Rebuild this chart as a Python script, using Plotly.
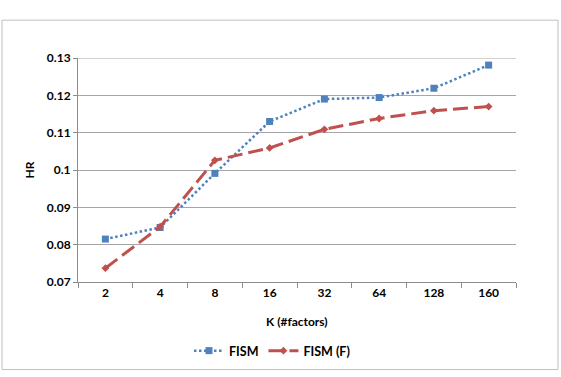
import plotly.graph_objects as go

categories = ["2", "4", "8", "16", "32", "64", "128", "160"]
fism = [0.0815, 0.0846, 0.0991, 0.1130, 0.1190, 0.1194, 0.1219, 0.1281]
fism_f = [0.0737, 0.0848, 0.1026, 0.1059, 0.1109, 0.1138, 0.1159, 0.1170]
y_ticks = [0.07, 0.08, 0.09, 0.1, 0.11, 0.12, 0.13]
y_tick_text = ["0.07", "0.08", "0.09", "0.1", "0.11", "0.12", "0.13"]

W, H = 561, 377
L, R, T, B = 78, 45, 58, 94
pw, ph = W - L - R, H - T - B

def px(x):
    return (x - L) / pw

def py(y):
    return (H - B - y) / ph

FONT = "Lato"
fig = go.Figure()
fig.add_trace(go.Scatter(
    x=categories, y=fism, name="FISM", mode="lines+markers",
    line=dict(color="#4F81BD", width=2.5, dash="2.5px,2.5px"),
    marker=dict(symbol="square", size=7, color="#4F81BD"),
))
fig.add_trace(go.Scatter(
    x=categories, y=fism_f, name="FISM (F)", mode="lines+markers",
    line=dict(color="#C0504D", width=3, dash="15px,6px"),
    marker=dict(symbol="diamond", size=6, color="#C0504D"),
))

fig.update_layout(
    width=W, height=H,
    margin=dict(l=L, r=R, t=T, b=B),
    paper_bgcolor="white", plot_bgcolor="white",
    font=dict(family=FONT, size=12, color="black"),
    showlegend=True,
    legend=dict(orientation="h", x=px(272), xanchor="center", y=py(351), yanchor="middle",
                font=dict(family=FONT, size=12.5, color="black", weight="bold"),
                itemwidth=30, bgcolor="rgba(0,0,0,0)"),
    xaxis=dict(type="category", showgrid=False, showline=True, linecolor="#8c8c8c", linewidth=1,
               ticks="outside", tickson="boundaries", ticklen=5, tickcolor="#8c8c8c",
               tickfont=dict(family=FONT, size=12, color="black", weight="bold"),
               range=[-0.5, 7.5], fixedrange=True),
    yaxis=dict(range=[0.07, 0.13], tickvals=y_ticks, ticktext=y_tick_text,
               showgrid=True, gridcolor="#a6a6a6", gridwidth=1,
               showline=True, linecolor="#8c8c8c", linewidth=1,
               ticks="outside", ticklen=4, tickcolor="#8c8c8c",
               tickfont=dict(family=FONT, size=12, color="black", weight="bold"),
               zeroline=False, fixedrange=True),
    shapes=[dict(type="rect", xref="paper", yref="paper",
                 x0=px(2), x1=px(558), y0=py(20), y1=py(371),
                 line=dict(color="#bfbfbf", width=1), layer="below")],
    annotations=[
        dict(text="<b>K (#factors)</b>", xref="paper", yref="paper", x=px(297), y=py(323),
             xanchor="center", yanchor="middle", showarrow=False,
             font=dict(family=FONT, size=12, color="black")),
        dict(text="<b>HR</b>", xref="paper", yref="paper", x=px(29), y=py(171),
             xanchor="center", yanchor="middle", showarrow=False, textangle=-90,
             font=dict(family=FONT, size=12, color="black")),
    ],
)
fig.add_hline(y=0.13, line=dict(color="#a6a6a6", width=1))

fig.write_html("out.html")
